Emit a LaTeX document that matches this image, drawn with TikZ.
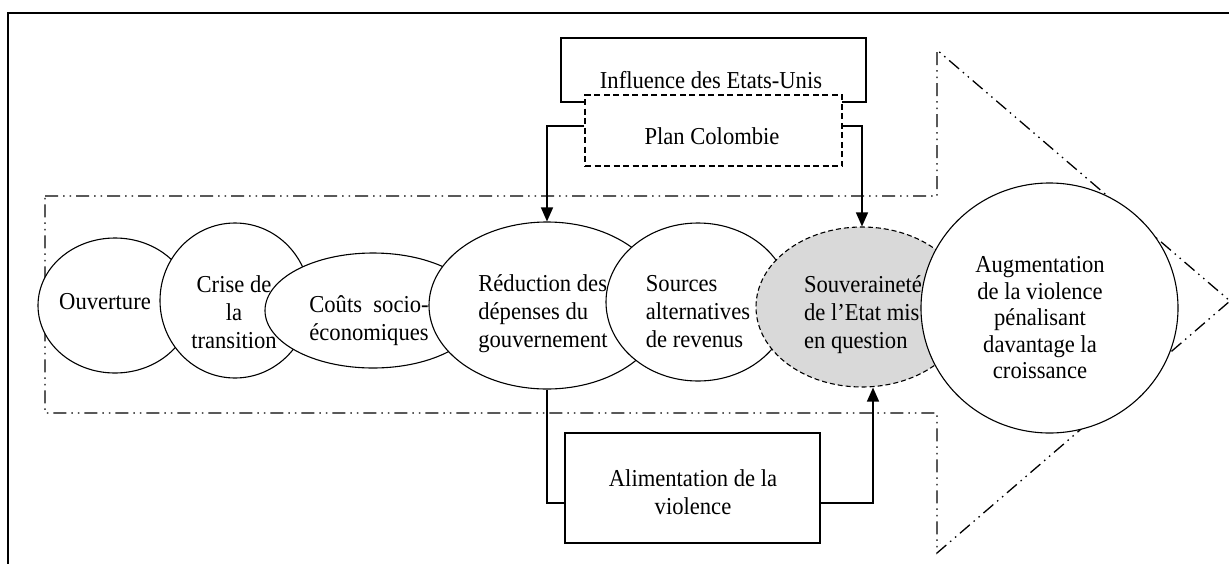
\documentclass[tikz,border=0pt]{standalone}
\usepackage{fontspec}
\setmainfont{Liberation Serif}[FakeStretch=0.93]
\usetikzlibrary{shapes.geometric,arrows.meta}
\begin{document}
\begin{tikzpicture}[x=1pt,y=-1pt,
  txt/.style={inner sep=0pt,font=\fontsize{24.3}{28}\selectfont},
  ell/.style={ellipse,draw,fill=white,line width=1.1pt,inner sep=0pt},
  boxn/.style={rectangle,draw,fill=white,line width=1.4pt,inner sep=0pt},
  arr/.style={line width=1.4pt,-{Triangle[length=14pt,width=12pt]}},
  conn/.style={line width=1.4pt},
  dashdotdot/.style={line width=1.3pt,dash pattern=on 13pt off 5pt on 1.5pt off 5pt on 1.5pt off 5pt}
]
\useasboundingbox (0,0) rectangle (1229,563);
\clip (0,0) rectangle (1229,563);
% outer frame
\draw[line width=2.2pt] (8,580) -- (8,13) -- (1250,13);
% big dash-dot arrow
\draw[dashdotdot,line join=miter] (45,196) -- (937,196) -- (937,50) -- (1230,301) -- (937,553) -- (937,413) -- (45,413) -- cycle;
% top boxes
\node[boxn,minimum width=305pt,minimum height=64pt] (infl) at (713.5,70) {};
\node[txt] (tinf) at (711,80) {Influence des Etats-Unis};
\node[boxn,dash pattern=on 6pt off 3.5pt,minimum width=257pt,minimum height=71pt] (plan) at (713.5,130.5) {};
\node[txt] (tpla) at (712,136) {Plan Colombie};
% ellipses
\node[ell,minimum width=154pt,minimum height=135pt] (ouv) at (115,305.5) {};
\node[txt] (touv) at (105,302) {Ouverture};
\node[ell,minimum width=150pt,minimum height=155pt] (cri) at (235,300.5) {};
\node[txt,align=center] (tcri) at (234,312) {Crise de\\la\\transition};
\node[ell,minimum width=216pt,minimum height=115pt] (cou) at (373,310.5) {};
\node[txt,align=center] (tcou) at (369,321) {Coûts\ \ socio-\\économiques};
\node[ell,minimum width=236pt,minimum height=167pt] (red) at (547,305.5) {};
\node[txt,align=left] (tred) at (543,314) {Réduction des\\dépenses du\\gouvernement};
\node[ell,minimum width=184pt,minimum height=158pt] (src) at (698,302) {};
\node[txt,align=left] (tsrc) at (698,312) {Sources\\alternatives\\de revenus};
\node[ell,fill={rgb,255:red,217;green,217;blue,217},dash pattern=on 5pt off 3pt,minimum width=212pt,minimum height=160pt] (sov) at (862,307) {};
\node[txt,align=left] (tsov) at (863,315) {Souveraineté\\de l’Etat mis\\en question};
\node[ell,minimum width=257pt,minimum height=250pt] (aug) at (1049.5,308) {};
\node[txt,align=center,font=\fontsize{24.3}{26.5}\selectfont] (taug) at (1040,318) {Augmentation\\de la violence\\pénalisant\\davantage la\\croissance};
% bottom box
\node[boxn,minimum width=255pt,minimum height=110pt] (alim) at (692.5,488) {};
\node[txt,align=center] (tali) at (693,492) {Alimentation de la\\violence};
% connectors
\draw[arr] ([yshift=4.5pt]plan.west) -| (red.north);
\draw[arr] ([yshift=4.5pt]plan.east) -| (sov.north);
\draw[conn] (red.south) |- ([yshift=-15pt]alim.west);
\draw[arr] ([yshift=-15pt]alim.east) -| ([xshift=11pt]sov.south);
\end{tikzpicture}
\end{document}
